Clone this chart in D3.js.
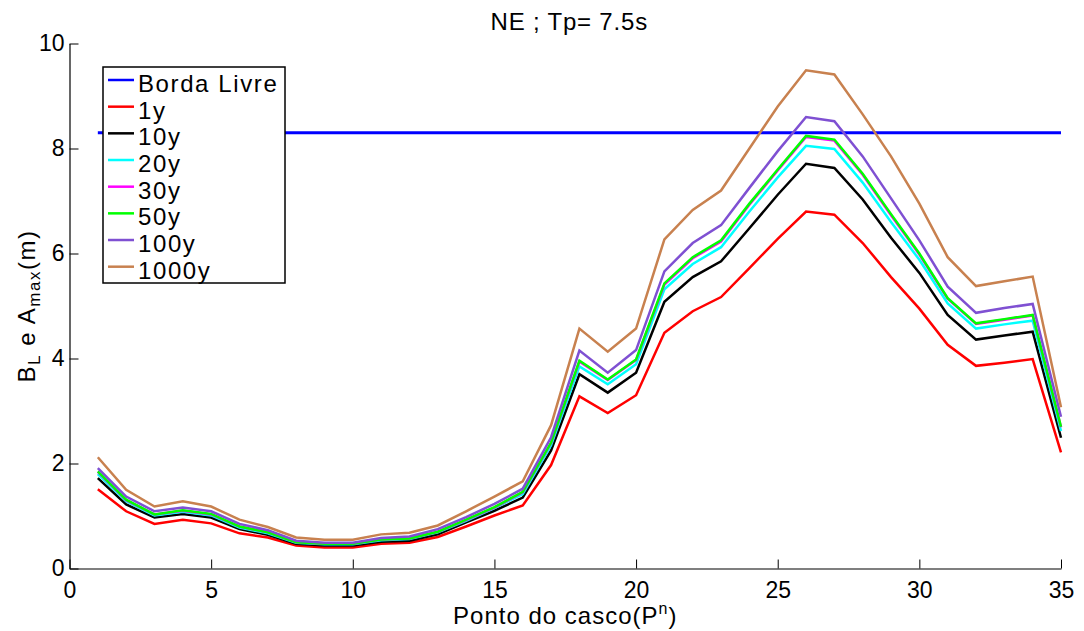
<!DOCTYPE html>
<html>
<head>
<meta charset="utf-8">
<script src="https://cdn.jsdelivr.net/npm/d3@7"></script>
<style>
  body { margin: 0; background: #fff; }
  svg text { font-family: "Liberation Sans", Arial, Helvetica, sans-serif; fill: #000; }
</style>
</head>
<body>
<svg id="chart" width="1084" height="631"></svg>
<script>
var title = 'NE ; Tp= 7.5s';
var points = d3.range(1, 36);
var bordaLivre = 8.3;

var names = ['1y', '10y', '20y', '30y', '50y', '100y', '1000y'];
var colors = ['#ff0000', '#000000', '#00ffff', '#ff00ff', '#00ff00', '#7f50d2', '#c8814f'];

var y1 = [1.51, 1.09, 0.85, 0.93, 0.86, 0.67, 0.59, 0.44, 0.40, 0.40, 0.47, 0.49, 0.60, 0.80, 1.01, 1.20, 1.97, 3.28, 2.96, 3.30,
  4.49, 4.90, 5.17, 5.72, 6.28, 6.80, 6.74, 6.20, 5.55, 4.95, 4.26, 3.86, 3.92, 3.99, 2.21];
var y10 = [1.72, 1.22, 0.97, 1.04, 0.97, 0.75, 0.64, 0.47, 0.44, 0.44, 0.51, 0.53, 0.65, 0.88, 1.10, 1.35, 2.25, 3.70, 3.35, 3.73,
  5.08, 5.55, 5.85, 6.48, 7.12, 7.71, 7.63, 7.03, 6.30, 5.63, 4.83, 4.36, 4.44, 4.51, 2.49];
var y20 = [1.80, 1.28, 1.01, 1.08, 1.01, 0.78, 0.67, 0.49, 0.46, 0.46, 0.54, 0.56, 0.69, 0.91, 1.15, 1.42, 2.35, 3.85, 3.51, 3.89,
  5.32, 5.80, 6.12, 6.80, 7.45, 8.05, 7.99, 7.35, 6.60, 5.88, 5.05, 4.57, 4.65, 4.72, 2.62];
var y30 = [1.84, 1.30, 1.03, 1.10, 1.03, 0.80, 0.69, 0.50, 0.47, 0.47, 0.55, 0.57, 0.70, 0.92, 1.16, 1.45, 2.39, 3.94, 3.59, 3.97,
  5.41, 5.91, 6.23, 6.93, 7.58, 8.22, 8.15, 7.50, 6.73, 5.98, 5.14, 4.66, 4.74, 4.82, 2.69];
var y50 = [1.85, 1.31, 1.03, 1.11, 1.04, 0.80, 0.69, 0.50, 0.47, 0.47, 0.55, 0.57, 0.70, 0.93, 1.17, 1.46, 2.40, 3.96, 3.60, 3.98,
  5.43, 5.93, 6.25, 6.95, 7.60, 8.24, 8.17, 7.52, 6.75, 6.00, 5.15, 4.67, 4.75, 4.83, 2.70];
var y100 = [1.91, 1.37, 1.09, 1.16, 1.09, 0.85, 0.73, 0.53, 0.49, 0.49, 0.58, 0.61, 0.75, 0.98, 1.23, 1.52, 2.50, 4.15, 3.73, 4.16,
  5.66, 6.20, 6.54, 7.25, 7.95, 8.60, 8.52, 7.85, 7.05, 6.25, 5.37, 4.87, 4.96, 5.04, 2.89];
var y1000 = [2.12, 1.50, 1.18, 1.28, 1.18, 0.93, 0.79, 0.59, 0.55, 0.55, 0.65, 0.68, 0.82, 1.09, 1.37, 1.66, 2.73, 4.57, 4.13, 4.57,
  6.27, 6.83, 7.20, 8.00, 8.80, 9.49, 9.41, 8.65, 7.85, 6.95, 5.93, 5.38, 5.47, 5.56, 3.07];

var xTicks = [0, 5, 10, 15, 20, 25, 30, 35];
var yTicks = [0, 2, 4, 6, 8, 10];

var series = [y1, y10, y20, y30, y50, y100, y1000];

var svg = d3.select('#chart');
var margin = { left: 69.5, right: 23, top: 43.5, bottom: 62.5 };
var width = 1084 - margin.left - margin.right;
var height = 631 - margin.top - margin.bottom;

var x = d3.scaleLinear().domain([0, 35]).range([0, width]);
var y = d3.scaleLinear().domain([0, 10]).range([height, 0]);

var g = svg.append('g').attr('transform', 'translate(' + margin.left + ',' + margin.top + ')');

// axes, MATLAB style ticks pointing inward
var xAxis = g.append('g')
    .attr('transform', 'translate(0,' + height + ')')
    .call(d3.axisBottom(x).tickValues(xTicks).tickSizeInner(-9).tickSizeOuter(0).tickPadding(13));
var yAxis = g.append('g')
    .call(d3.axisLeft(y).tickValues(yTicks).tickSizeInner(-9).tickSizeOuter(0).tickPadding(5));

[xAxis, yAxis].forEach(function(a) {
  a.select('.domain').attr('stroke', '#000').attr('stroke-width', 1.2);
  a.selectAll('.tick line').attr('stroke', '#000').attr('stroke-width', 1);
  a.selectAll('.tick text').attr('font-size', 23).attr('font-family', '"Liberation Sans", Arial, sans-serif');
});
xAxis.selectAll('.tick text').attr('dy', '0.71em');

var line = d3.line()
    .x(function(d, i) { return x(points[i]); })
    .y(function(d) { return y(d); });

// Borda Livre reference line
g.append('line')
    .attr('x1', x(points[0]))
    .attr('x2', x(points[points.length - 1]))
    .attr('y1', y(bordaLivre))
    .attr('y2', y(bordaLivre))
    .attr('stroke', '#0000ff')
    .attr('stroke-width', 3);

g.selectAll('path.series')
    .data(series)
  .enter().append('path')
    .attr('class', 'series')
    .attr('d', line)
    .attr('fill', 'none')
    .attr('stroke', function(d, i) { return colors[i]; })
    .attr('stroke-width', 2.5)
    .attr('stroke-linejoin', 'miter');

// title
svg.append('text')
    .attr('x', margin.left + width / 2 + 4)
    .attr('y', 30)
    .attr('text-anchor', 'middle')
    .attr('font-size', 24)
    .attr('letter-spacing', 0.8)
    .text(title);

// x label
var xl = svg.append('text')
    .attr('x', margin.left + width / 2)
    .attr('y', 624)
    .attr('text-anchor', 'middle')
    .attr('font-size', 24)
    .attr('letter-spacing', 1);
xl.append('tspan').text('Ponto do casco(P');
xl.append('tspan').attr('font-size', 16).attr('dy', -10).text('n');
xl.append('tspan').attr('dy', 10).text(')');

// y label
var yl = svg.append('text')
    .attr('transform', 'translate(35,' + (margin.top + height / 2) + ') rotate(-90)')
    .attr('text-anchor', 'middle')
    .attr('font-size', 24)
    .attr('letter-spacing', 1.5);
yl.append('tspan').text('B');
yl.append('tspan').attr('font-size', 17).attr('dy', 5).text('L');
yl.append('tspan').attr('dy', -5).text(' e A');
yl.append('tspan').attr('font-size', 17).attr('dy', 5).text('max');
yl.append('tspan').attr('dy', -5).text('(m)');

// legend
var legendNames = ['Borda Livre'].concat(names);
var legendColors = ['#0000ff'].concat(colors);
var legend = svg.append('g').attr('transform', 'translate(103,67)');
legend.append('rect')
    .attr('width', 182)
    .attr('height', 216)
    .attr('fill', '#fff')
    .attr('stroke', '#000')
    .attr('stroke-width', 1.5);
var item = legend.selectAll('g.item')
    .data(legendNames)
  .enter().append('g')
    .attr('class', 'item')
    .attr('transform', function(d, i) { return 'translate(0,' + (13 + i * 26.67) + ')'; });
item.append('line')
    .attr('x1', 5).attr('x2', 31)
    .attr('stroke', function(d, i) { return legendColors[i]; })
    .attr('stroke-width', 2.5);
item.append('text')
    .attr('x', 35)
    .attr('y', 12)
    .attr('font-size', 24)
    .attr('letter-spacing', 1.6)
    .text(function(d) { return d; });
</script>
</body>
</html>
